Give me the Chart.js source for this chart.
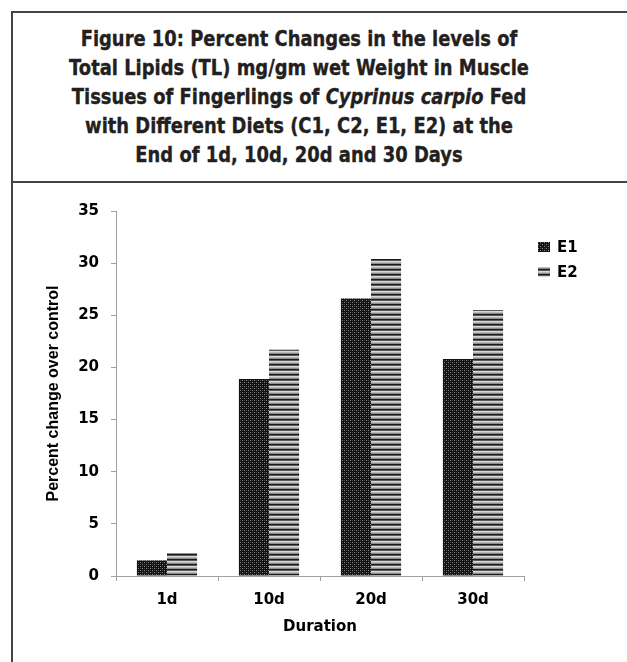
<!DOCTYPE html>
<html>
<head>
<meta charset="utf-8">
<script src="https://cdn.jsdelivr.net/npm/chart.js@4.4.1/dist/chart.umd.min.js"></script>
<style>
    body { margin: 0; background: #fff; width: 627px; height: 662px; overflow: hidden; position: relative; }
    #title-box { position: absolute; left: 11px; top: 11px; width: 640px; height: 168px; border: 2px solid #444; }
    #chart-box { position: absolute; left: 11px; top: 179px; width: 640px; height: 520px; border-left: 2px solid #444; }
    #title {
        position: absolute; left: 12px; top: 24px; width: 574px;
        font-family: "DejaVu Sans", Verdana, sans-serif; font-weight: bold; font-size: 22px;
        line-height: 29px; color: #231f20; text-align: center; white-space: nowrap;
        -webkit-text-stroke: 0.4px #231f20;
        transform-origin: 50% 0;
    }
    #chart-wrap { position: absolute; left: 12px; top: 182px; width: 615px; height: 480px; }
</style>
</head>
<body>
<div id="title-box"></div>
<div id="chart-box"></div>
<div id="title">
    <span class="tl">Figure 10: Percent Changes in the levels of</span><br>
    <span class="tl">Total Lipids (TL) mg/gm wet Weight in Muscle</span><br>
    <span class="tl">Tissues of Fingerlings of <i>Cyprinus carpio</i> Fed</span><br>
    <span class="tl">with Different Diets (C1, C2, E1, E2) at the</span><br>
    <span class="tl">End of 1d, 10d, 20d and 30 Days</span>
</div>
<div id="chart-wrap"><canvas id="chart"></canvas></div>
<script>
// Data
const durations = ['1d', '10d', '20d', '30d'];
const e1Values = [1.5, 18.9, 26.6, 20.8];
const e2Values = [2.2, 21.7, 30.4, 25.5];
const yTicks = [0, 5, 10, 15, 20, 25, 30, 35];

// Squeeze the title so its lines are about as wide as in the original
(function fitTitle() {
    const second = document.querySelectorAll('#title .tl')[1];
    const w = second.getBoundingClientRect().width;
    document.getElementById('title').style.transform = `scaleX(${460 / w})`;
})();

function makePattern(kind) {
    const c = document.createElement('canvas');
    const g = c.getContext('2d');
    if (kind === 'dots') {
        c.width = 4; c.height = 4;
        g.fillStyle = '#111';
        g.fillRect(0, 0, 4, 4);
        g.fillStyle = '#8a8a8a';
        g.fillRect(0, 0, 1, 1);
        g.fillRect(2, 2, 1, 1);
        g.fillStyle = '#444';
        g.fillRect(2, 0, 1, 1);
        g.fillRect(0, 2, 1, 1);
    } else {
        const rows = ['#b8b8b8', '#8c8c8c', '#1a1a1a', '#5a5a5a', '#d8d8d8'];
        c.width = 4; c.height = rows.length;
        rows.forEach((col, i) => { g.fillStyle = col; g.fillRect(0, i, 4, 1); });
    }
    return g.createPattern(c, 'repeat');
}

const dotFill = makePattern('dots');
const stripeFill = makePattern('stripes');

// Legend drawn to the right of the plot, like the original
const sideLegend = {
    id: 'sideLegend',
    afterDraw(chart) {
        const ctx = chart.ctx;
        ctx.save();
        ctx.font = 'bold 15px "DejaVu Sans", Verdana, sans-serif';
        ctx.textBaseline = 'middle';
        chart.data.datasets.forEach((ds, i) => {
            const y = 65 + i * 25;
            ctx.fillStyle = ds.backgroundColor;
            ctx.fillRect(526, y - 5, 12, 10);
            ctx.fillStyle = '#000';
            ctx.fillText(ds.label, 545, y + 1);
        });
        ctx.restore();
    }
};

const tickFont = { family: '"DejaVu Sans", Verdana, sans-serif', weight: 'bold', size: 15 };

new Chart(document.getElementById('chart'), {
    type: 'bar',
    data: {
        labels: durations,
        datasets: [
            { label: 'E1', data: e1Values, backgroundColor: dotFill, borderWidth: 0 },
            { label: 'E2', data: e2Values, backgroundColor: stripeFill, borderWidth: 0 },
        ],
    },
    options: {
        responsive: true,
        maintainAspectRatio: false,
        animation: false,
        datasets: { bar: { barPercentage: 1.0, categoryPercentage: 0.59 } },
        layout: { padding: { top: 29, right: 103, left: 0, bottom: 26 } },
        plugins: {
            legend: { display: false },
            tooltip: { enabled: false },
        },
        scales: {
            x: {
                grid: { display: true, drawOnChartArea: false, offset: true, color: '#a0a0a0', tickLength: 5 },
                border: { color: '#a0a0a0', width: 1 },
                ticks: { color: '#000', font: tickFont, padding: 10 },
                title: { display: true, text: 'Duration', color: '#000', font: tickFont, padding: { top: 2, bottom: 0 } },
                afterFit: (s) => { s.height = 60; },
            },
            y: {
                min: 0,
                max: 35,
                afterBuildTicks: (s) => { s.ticks = yTicks.map(v => ({ value: v })); },
                grid: { display: true, drawOnChartArea: false, color: '#a0a0a0', tickLength: 5 },
                border: { color: '#a0a0a0', width: 1 },
                ticks: { color: '#000', font: tickFont, padding: 12 },
                title: {
                    display: true, text: 'Percent change over control', color: '#000',
                    font: { family: '"Liberation Sans", Arial, sans-serif', weight: 'bold', size: 16 },
                    padding: { top: 32, bottom: 0 },
                },
                afterFit: (s) => { s.width = 104; },
            },
        },
    },
    plugins: [sideLegend],
});
</script>
</body>
</html>
